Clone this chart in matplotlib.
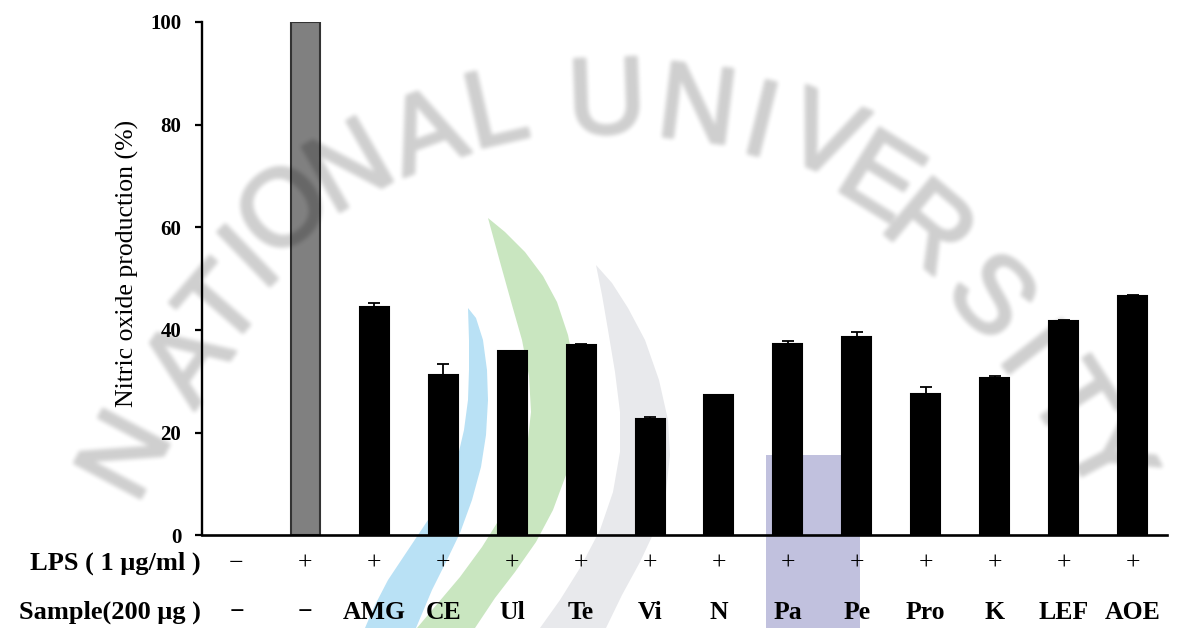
import numpy as np
import matplotlib
matplotlib.use("Agg")
import matplotlib.pyplot as plt
from matplotlib.patches import Polygon, Rectangle
import matplotlib.patheffects as pe

# ---- data -------------------------------------------------------------
samples = ["\u2212", "\u2212", "AMG", "CE", "Ul", "Te", "Vi", "N",
           "Pa", "Pe", "Pro", "K", "LEF", "AOE"]
lps = ["\u2212", "+", "+", "+", "+", "+", "+", "+", "+", "+", "+", "+", "+", "+"]
no_production = [0, 100, 44.4, 31.2, 35.9, 37.0, 22.7, 27.3,
                 37.3, 38.6, 27.6, 30.7, 41.7, 46.6]
no_error = [0, 0, 0.8, 2.2, 0, 0.3, 0.3, 0, 0.45, 1.0, 1.3, 0.25, 0.2, 0.15]
y_ticks = [0, 20, 40, 60, 80, 100]

W, H = 1178, 628
serif = "Liberation Serif"

fig = plt.figure(figsize=(W / 100, H / 100), dpi=100)
fig.patch.set_facecolor("white")

# ---- background decoration (pixel coordinates) ------------------------
bg = fig.add_axes([0, 0, 1, 1], zorder=0)
bg.set_xlim(0, W)
bg.set_ylim(H, 0)
bg.axis("off")

blue_arc = [(468, 308), (476, 318), (483, 340), (487, 370), (488, 400),
            (486, 435), (481, 467), (472, 500), (460, 533), (447, 560),
            (432, 590), (416, 628),
            (365, 628), (374, 607), (388, 580), (408, 550), (428, 520),
            (445, 490), (457, 460), (464, 430), (468, 400), (469, 370),
            (469, 340)]
green_arc = [(488, 218), (505, 232), (525, 252), (543, 276), (557, 302),
             (568, 335), (575, 370), (577, 405), (574, 440), (566, 475),
             (553, 510), (536, 542), (515, 572), (495, 598), (475, 628),
             (417, 628), (438, 603), (460, 577), (482, 547), (502, 515),
             (517, 482), (527, 448), (531, 412), (529, 376), (522, 340),
             (512, 305), (500, 262)]
grey_arc = [(596, 265), (612, 283), (628, 308), (645, 340), (659, 380),
            (668, 420), (670, 455), (666, 492), (656, 528), (640, 562),
            (622, 595), (606, 628),
            (540, 628), (560, 600), (580, 568), (600, 530), (613, 492),
            (620, 452), (620, 412), (615, 372), (608, 330), (602, 295)]
bg.add_patch(Polygon(grey_arc, closed=True, facecolor="#e8e9ec", edgecolor="none"))
bg.add_patch(Polygon(blue_arc, closed=True, facecolor="#b9e1f5", edgecolor="none"))
bg.add_patch(Polygon(green_arc, closed=True, facecolor="#c9e6c0", edgecolor="none"))
bg.add_patch(Rectangle((766, 455), 94, 173, facecolor="#c1c1de", edgecolor="none"))

# ---- main chart -------------------------------------------------------
ax = fig.add_axes([202 / W, 92.7 / H, 965 / W, 513.4 / H], zorder=1)
ax.patch.set_alpha(0)

x = np.arange(len(samples))
colors = ["black", "#808080"] + ["black"] * (len(samples) - 2)
edges = ["none", "#333333"] + ["black"] * (len(samples) - 2)
ax.bar(x, no_production, width=0.42, color=colors, edgecolor=edges,
       linewidth=1.5, zorder=2)

err = np.array(no_error)
vals = np.array(no_production)
mask = err > 0
ax.errorbar(x[mask], vals[mask], yerr=[np.zeros(mask.sum()), err[mask]],
            fmt="none", ecolor="black", elinewidth=1.3, capsize=4,
            capthick=1.3, zorder=3)

ax.set_xlim(-0.5, len(samples) - 0.5)
ax.set_ylim(0, 100)
ax.set_yticks(y_ticks)
ax.set_yticklabels([str(t) for t in y_ticks], fontfamily=serif,
                   fontweight="bold", fontsize=15)
ax.set_xticks([])
ax.tick_params(axis="y", direction="out", length=5, width=1.6, pad=10)
for side in ("top", "right"):
    ax.spines[side].set_visible(False)
ax.spines["left"].set_linewidth(1.7)
ax.spines["bottom"].set_linewidth(1.9)

fig.text(127 / W, 1 - 263 / H, "Nitric oxide production (%)", rotation=90,
         ha="center", va="center", fontsize=18.5, fontfamily=serif)

# treatment rows under the axis
lps_y = 1 - 570 / H
smp_y = 1 - 619 / H
fig.text(201 / W, lps_y, "LPS ( 1 \u03bcg/ml )", ha="right", va="baseline",
         fontsize=19, fontfamily=serif, fontweight="bold")
fig.text(201 / W, smp_y, "Sample(200 \u03bcg )", ha="right", va="baseline",
         fontsize=19, fontfamily=serif, fontweight="bold")
for xi, (l, s) in enumerate(zip(lps, samples)):
    xf = fig.transFigure.inverted().transform(ax.transData.transform((xi, 0)))[0]
    fig.text(xf, lps_y, l, ha="center", va="baseline", fontsize=18.5,
             fontfamily=serif)
    fig.text(xf, smp_y, s, ha="center", va="baseline", fontsize=18.5,
             fontfamily=serif, fontweight="bold")

# ---- watermark lettering: rendered once, softened, laid over the chart --
letters = [("N", 130, 458, 62), ("A", 192, 365, 55), ("T", 225, 310, 49),
           ("I", 254, 262, 44), ("O", 287, 214, 40), ("N", 352, 172, 30),
           ("A", 428, 138, 20), ("L", 497, 115, 13),
           ("U", 607, 105, 2), ("N", 697, 112, -7), ("I", 760, 127, -14),
           ("V", 822, 142, -22), ("E", 878, 182, -32), ("R", 926, 232, -40),
           ("S", 988, 300, -47), ("I", 1028, 352, -52), ("T", 1068, 405, -57),
           ("Y", 1104, 458, -62)]

wm_fig = plt.figure(figsize=(W / 100, H / 100), dpi=100)
wax = wm_fig.add_axes([0, 0, 1, 1])
wax.set_xlim(0, W)
wax.set_ylim(H, 0)
wax.axis("off")
thick = [pe.Stroke(linewidth=2.5, foreground="black"), pe.Normal()]
for ch, lx, ly, rot in letters:
    wax.text(lx, ly, ch, ha="center", va="center", rotation=rot,
             rotation_mode="anchor", fontsize=78,
             fontfamily="Liberation Sans", color="black", path_effects=thick)
wm_fig.canvas.draw()
ink = 1.0 - np.asarray(wm_fig.canvas.buffer_rgba())[..., 0].astype(float) / 255.0
plt.close(wm_fig)


def box_blur(a, r):
    k = 2 * r + 1
    p = np.pad(a, ((r, r), (0, 0)), mode="edge")
    c = np.cumsum(np.vstack([np.zeros((1, p.shape[1])), p]), axis=0)
    a = (c[k:] - c[:-k]) / k
    p = np.pad(a, ((0, 0), (r, r)), mode="edge")
    c = np.cumsum(np.hstack([np.zeros((p.shape[0], 1)), p]), axis=1)
    return (c[:, k:] - c[:, :-k]) / k


for _ in range(2):
    ink = box_blur(ink, 2)

wm = np.zeros(ink.shape + (4,))
wm[..., 3] = np.clip(ink, 0, 1) * 0.19

ov = fig.add_axes([0, 0, 1, 1], zorder=2)
ov.set_xlim(0, W)
ov.set_ylim(H, 0)
ov.axis("off")
ov.imshow(wm, extent=(0, W, H, 0), interpolation="none", aspect="auto")

fig.savefig("out.png", dpi=100)
